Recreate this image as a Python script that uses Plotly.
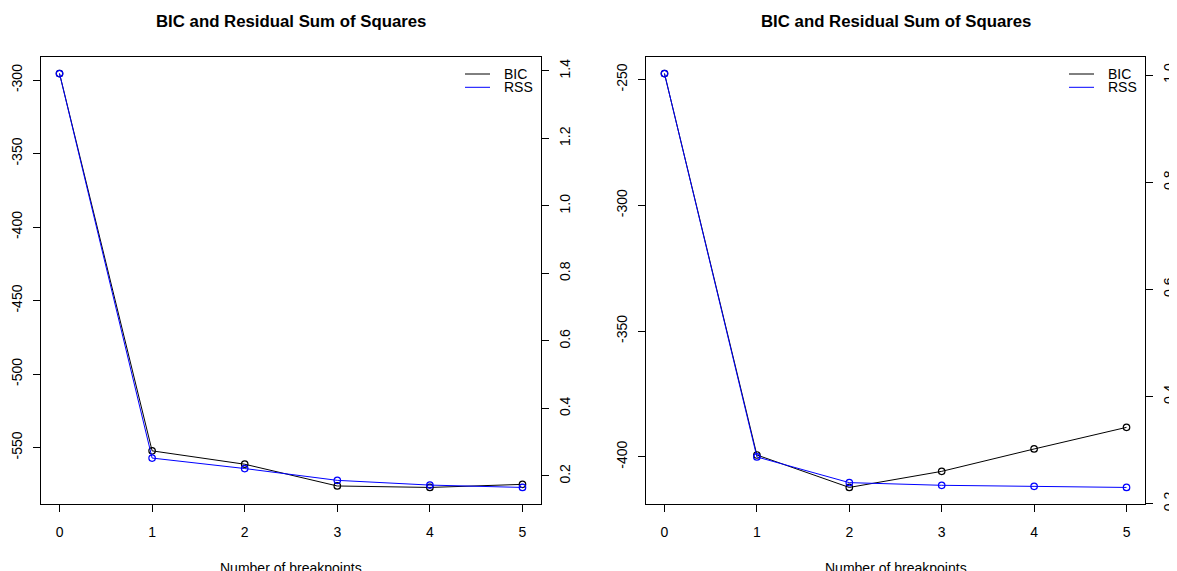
import plotly.graph_objects as go

# ---------------- data ----------------
breakpoints = [0, 1, 2, 3, 4, 5]

bic_left = [-295.5, -552.2, -561.3, -576.1, -577.1, -575.0]
rss_left = [1.392, 0.253, 0.222, 0.187, 0.173, 0.166]

bic_right = [-247.6, -399.3, -412.2, -405.8, -396.9, -388.3]
rss_right = [1.003, 0.287, 0.239, 0.234, 0.232, 0.230]

x_tickvals = [0, 1, 2, 3, 4, 5]
x_ticktext = ["0", "1", "2", "3", "4", "5"]

bic_left_ticks = [-550, -500, -450, -400, -350, -300]
bic_left_text = ["-550", "-500", "-450", "-400", "-350", "-300"]
rss_left_ticks = [0.2, 0.4, 0.6, 0.8, 1.0, 1.2, 1.4]
rss_left_text = ["0.2", "0.4", "0.6", "0.8", "1.0", "1.2", "1.4"]

bic_right_ticks = [-400, -350, -300, -250]
bic_right_text = ["-400", "-350", "-300", "-250"]
rss_right_ticks = [0.2, 0.4, 0.6, 0.8, 1.0]
rss_right_text = ["0.2", "0.4", "0.6", "0.8", "1.0"]

series_names = ["BIC", "RSS"]
series_colors = ["black", "blue"]

title_text = "BIC and Residual Sum of Squares"
xlabel_text = "Number of breakpoints"

# ---------------- style ----------------
OFF = 8  # default page body margin
W, H = 1177 - OFF, 571 - OFF
FONT = "Liberation Sans, Arial, Helvetica, sans-serif"


def padded(vals, frac=0.04):
    lo, hi = min(vals), max(vals)
    d = (hi - lo) * frac
    return [lo - d, hi + d]


def px_x(p):
    return (p - OFF) / W


def px_y(p):
    return 1 - (p - OFF) / H


left_dom = [px_x(41), px_x(541)]
right_dom = [px_x(646), px_x(1145)]
y_dom = [px_y(504), px_y(57)]

fig = go.Figure()


def add_series(x, y, xa, ya, color):
    fig.add_trace(go.Scatter(
        x=x, y=y, xaxis=xa, yaxis=ya, mode="lines+markers",
        line=dict(color=color, width=1),
        marker=dict(symbol="circle-open", size=6.5, color=color, line=dict(width=1.2, color=color)),
        showlegend=False, hoverinfo="skip"))


add_series(breakpoints, bic_left, "x", "y", series_colors[0])
add_series(breakpoints, rss_left, "x", "y2", series_colors[1])
add_series(breakpoints, bic_right, "x2", "y3", series_colors[0])
add_series(breakpoints, rss_right, "x2", "y4", series_colors[1])

tickfont = dict(family=FONT, size=14, color="black")

xr = padded(breakpoints)


def xaxis(dom, anchor):
    return dict(domain=dom, anchor=anchor, range=xr, tickvals=x_tickvals, ticktext=x_ticktext,
                ticks="outside", ticklen=7, tickwidth=1, tickcolor="black",
                showline=True, linecolor="black", linewidth=1, mirror=True,
                showgrid=False, zeroline=False, tickfont=tickfont, automargin=False,
                ticklabelstandoff=8)


def yaxis(dom, anchor, rng, tv, tt, side="left", overlay=None, standoff=4):
    d = dict(domain=dom, anchor=anchor, range=rng, tickvals=tv, ticktext=tt, side=side,
             ticks="outside", ticklen=7, tickwidth=1, tickcolor="black",
             showline=True, linecolor="black", linewidth=1,
             showgrid=False, zeroline=False, tickfont=tickfont, tickangle=-90,
             automargin=False, ticklabelstandoff=standoff)
    if overlay:
        d["overlaying"] = overlay
    return d


fig.update_layout(
    width=W, height=H,
    margin=dict(l=0, r=0, t=0, b=0),
    paper_bgcolor="white", plot_bgcolor="white",
    font=dict(family=FONT, color="black"),
    xaxis=xaxis(left_dom, "y"),
    xaxis2=xaxis(right_dom, "y3"),
    yaxis=yaxis(y_dom, "x", padded(bic_left), bic_left_ticks, bic_left_text, standoff=5),
    yaxis2=yaxis(y_dom, "x", padded(rss_left), rss_left_ticks, rss_left_text, side="right", overlay="y", standoff=4),
    yaxis3=yaxis(y_dom, "x2", padded(bic_right), bic_right_ticks, bic_right_text, standoff=5),
    yaxis4=yaxis(y_dom, "x2", padded(rss_right), rss_right_ticks, rss_right_text, side="right", overlay="y3", standoff=4),
    showlegend=False,
)

annotations = []
shapes = []
for dom in (left_dom, right_dom):
    cx = (dom[0] + dom[1]) / 2
    annotations.append(dict(text="<b>" + title_text + "</b>", x=cx, y=px_y(22), xref="paper", yref="paper",
                            xanchor="center", yanchor="middle", showarrow=False,
                            font=dict(family=FONT, size=16.8, color="black")))
    annotations.append(dict(text=xlabel_text, x=cx, y=px_y(558), xref="paper", yref="paper",
                            xanchor="center", yanchor="top", showarrow=False,
                            font=dict(family=FONT, size=14, color="black")))
    # legend (top-right, no box)
    right_px = dom[1] * W + OFF
    for i, (nm, col) in enumerate(zip(series_names, series_colors)):
        yy = px_y(74 + 13.3 * i)
        shapes.append(dict(type="line", xref="paper", yref="paper",
                           x0=(right_px - 76 - OFF) / W, x1=(right_px - 51 - OFF) / W, y0=yy, y1=yy,
                           line=dict(color=col, width=1)))
        annotations.append(dict(text=nm, x=(right_px - 39 - OFF) / W, y=yy, xref="paper", yref="paper",
                                xanchor="left", yanchor="middle", showarrow=False,
                                font=dict(family=FONT, size=14, color="black")))

fig.update_layout(annotations=annotations, shapes=shapes)

fig.write_html("out.html")
